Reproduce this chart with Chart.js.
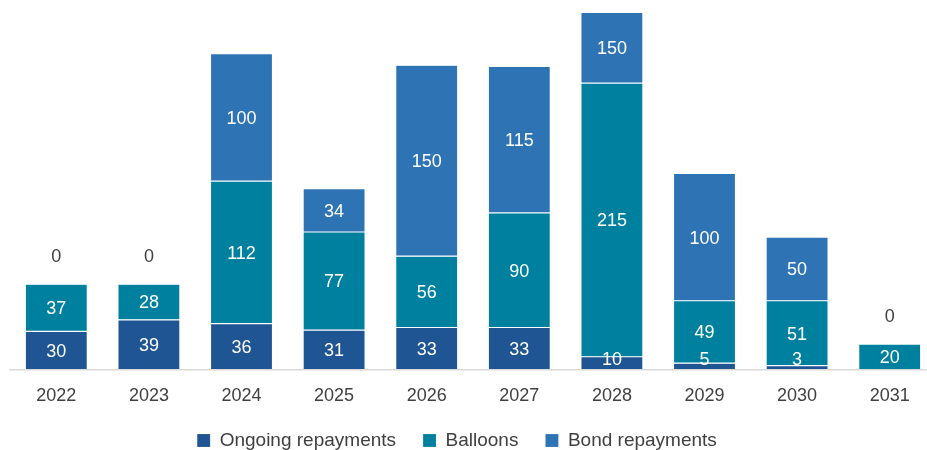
<!DOCTYPE html>
<html>
<head>
<meta charset="utf-8">
<script src="https://cdn.jsdelivr.net/npm/chart.js@4/dist/chart.umd.min.js"></script>
<style>
  html, body { margin: 0; padding: 0; background: #fff; overflow: hidden; }
  #wrap { width: 946px; height: 460px; }
</style>
</head>
<body>
<div id="wrap"><canvas id="chart" width="946" height="460"></canvas></div>
<script>
const years = ["2022", "2023", "2024", "2025", "2026", "2027", "2028", "2029", "2030", "2031"];
const ongoing = [30, 39, 36, 31, 33, 33, 10, 5, 3, 0];
const balloons = [37, 28, 112, 77, 56, 90, 215, 49, 51, 20];
const bonds = [0, 0, 100, 34, 150, 115, 150, 100, 50, 0];

const FONT = "'Liberation Sans', Arial, sans-serif";
const TEXT = '#404040';

// value labels: centred in the visible part of each segment,
// zero values of the top series written above the stack
const segmentLabels = {
  id: 'segmentLabels',
  afterDatasetsDraw(chart) {
    const { ctx, chartArea } = chart;
    const last = chart.data.datasets.length - 1;
    ctx.save();
    ctx.font = '18px ' + FONT;
    ctx.textAlign = 'center';
    ctx.textBaseline = 'middle';
    chart.data.datasets.forEach((ds, di) => {
      const meta = chart.getDatasetMeta(di);
      meta.data.forEach((bar, i) => {
        const v = ds.data[i];
        if (v === 0) {
          if (di !== last) return;
          ctx.fillStyle = TEXT;
          ctx.fillText('0', bar.x, bar.y - 27);
          return;
        }
        const top = Math.max(bar.y, chartArea.top);
        const bottom = Math.min(bar.base, chartArea.bottom);
        const y = Math.min((top + bottom) / 2 + 1.5, chartArea.bottom - 9);
        ctx.fillStyle = '#fff';
        ctx.fillText(String(v), bar.x, y);
      });
    });
    ctx.restore();
  }
};

// nudge the legend a little to the left of the plot centre
const legendShift = {
  id: 'legendShift',
  afterLayout(chart) {
    const lg = chart.legend;
    if (!lg) return;
    lg.left -= 16;
    lg.right -= 16;
  }
};

const seg = { borderWidth: 0.6, borderColor: 'rgba(255,255,255,0.25)', borderSkipped: false };

new Chart(document.getElementById('chart'), {
  type: 'bar',
  plugins: [segmentLabels, legendShift],
  data: {
    labels: years,
    datasets: [
      { label: 'Ongoing repayments', data: ongoing, backgroundColor: '#1F5592', ...seg },
      { label: 'Balloons', data: balloons, backgroundColor: '#00809F', ...seg },
      { label: 'Bond repayments', data: bonds, backgroundColor: '#2E74B5', ...seg }
    ]
  },
  options: {
    responsive: false,
    animation: false,
    layout: { padding: { top: 13, left: 10, right: 10, bottom: 0 } },
    datasets: { bar: { categoryPercentage: 1, barPercentage: 0.67 } },
    scales: {
      x: {
        stacked: true,
        grid: { display: false, drawTicks: false },
        border: { display: true, color: '#d9d9d9', width: 1.5 },
        ticks: { color: TEXT, font: { family: FONT, size: 18 }, padding: 16 },
        afterFit(scale) { scale.height = 34.5; }
      },
      y: {
        stacked: true,
        display: false,
        min: 0,
        max: 280
      }
    },
    plugins: {
      legend: {
        position: 'bottom',
        labels: {
          color: TEXT,
          font: { family: FONT, size: 19 },
          boxWidth: 13,
          boxHeight: 13,
          padding: 27,
          useBorderRadius: false
        }
      },
      tooltip: { enabled: false }
    }
  }
});
</script>
</body>
</html>
